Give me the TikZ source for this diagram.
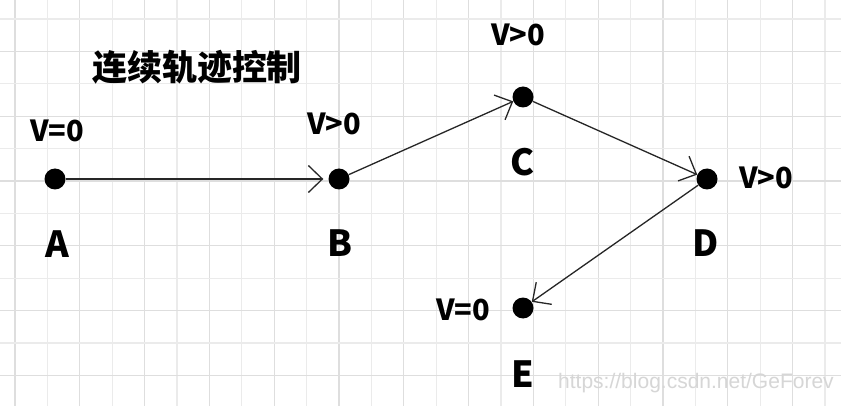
\documentclass[tikz,border=0pt]{standalone}
\usepackage{fontspec}
\setmainfont{Noto Sans CJK SC}
\newfontfamily\urlfont{Liberation Sans}
\usetikzlibrary{arrows.meta}
\definecolor{gridlite}{HTML}{EBEBEB}
\definecolor{griddark}{HTML}{DEDEDE}
\definecolor{wmark}{HTML}{D6D6D6}
\tikzset{
  dot/.style={circle,fill=black,inner sep=0pt,minimum size=21pt},
  vlbl/.style={font=\fontsize{29}{29}\selectfont\bfseries,anchor=base,inner sep=0pt},
  ptlbl/.style={font=\fontsize{36}{36}\selectfont\bfseries,anchor=base,inner sep=0pt},
  move/.style={draw=black!85,line width=1.3pt,-{Straight Barb[length=14pt,width=27pt]}},
}

\begin{document}
\begin{tikzpicture}[x=1pt,y=-1pt]
   \fill[white] (0,0) rectangle (841,406);
   \useasboundingbox (0,0) rectangle (841,406);
   \foreach \i in {0,...,25} {
      \ifodd\i \def\gc{gridlite}\else\def\gc{griddark}\fi
      \draw[\gc,line width=1.3pt] (15+32.4*\i,0) -- (15+32.4*\i,406);
   }
   \foreach \j in {0,...,11} {
      \ifodd\j \def\gc{griddark}\else\def\gc{gridlite}\fi
      \draw[\gc,line width=1.3pt] (0,19+32.4*\j) -- (841,19+32.4*\j);
   }
   \node[font=\fontsize{35}{35}\selectfont\bfseries] (title) at (197,67) {连续轨迹控制};
   \node[dot] (a) at (55,179) {};
   \node[dot] (b) at (339,179) {};
   \node[dot] (c) at (523,97) {};
   \node[dot] (d) at (707,179) {};
   \node[dot] (e) at (523,308) {};
   \node[vlbl] (va) at (57,142) {V=0};
   \node[vlbl] (vb) at (334,135) {V>0};
   \node[vlbl] (vc) at (518,46) {V>0};
   \node[vlbl] (vd) at (766,189) {V>0};
   \node[vlbl] (ve) at (463,320) {V=0};
   \node[ptlbl] (la) at (57,258) {A};
   \node[ptlbl] (lb) at (340,257) {B};
   \node[ptlbl] (lc) at (523,176) {C};
   \node[ptlbl] (ld) at (706,257) {D};
   \node[ptlbl] (le) at (523,387) {E};
   \draw[move,shorten >=5pt] (a) -- (b);
   \draw[move] (b) -- (c);
   \draw[move] (c) -- (d);
   \draw[move] (d) -- (e);
   \node[font=\urlfont\fontsize{21}{21}\selectfont,text=wmark,anchor=base west,inner sep=0pt] (wm) at (558,388) {https://blog.csdn.net/GeForev};
\end{tikzpicture}
\end{document}
